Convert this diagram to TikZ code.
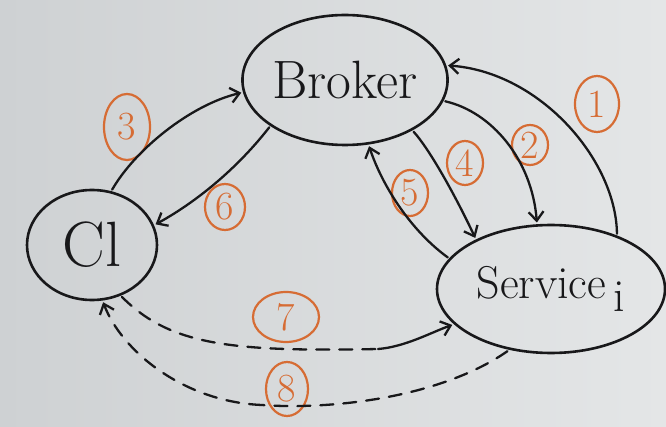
\documentclass[tikz,border=0pt]{standalone}
\usetikzlibrary{arrows.meta,shapes.geometric}
\definecolor{boardL}{RGB}{206,209,211}
\definecolor{boardR}{RGB}{228,230,231}
\definecolor{ink}{RGB}{24,24,26}
\definecolor{marker}{RGB}{214,108,52}
\tikzset{
  party/.style={ellipse, draw=ink, line width=2.6pt, inner sep=0pt, outer sep=3pt, text=ink},
  msg/.style={draw=ink, line width=2.3pt, line cap=round, -{Straight Barb[length=9pt,width=15pt,line width=2.3pt]}},
  plain/.style={draw=ink, line width=2.3pt, line cap=round},
  dashmsg/.style={dash pattern=on 13pt off 10pt},
  step label/.style={ellipse, draw=marker, line width=2.2pt, text=marker, inner sep=0pt,
    font=\fontsize{40}{42}\selectfont}
}
\begin{document}
\begin{tikzpicture}[x=1pt,y=-1pt]
  % whiteboard
  \shade[left color=boardL, right color=boardR] (0,0) rectangle (666,427);
  \useasboundingbox (0,0) rectangle (666,427);

  % parties
  \node[party, minimum width=192pt, minimum height=130pt,
        font=\fontsize{54}{56}\selectfont] (broker) at (345,80) {Broker};
  \node[party, minimum width=130pt, minimum height=110pt,
        font=\fontsize{64}{66}\selectfont] (client) at (92,245) {Cl};
  \node[party, minimum width=228pt, minimum height=128pt,
        font=\fontsize{46}{48}\selectfont] (service) at (551,289) {Service\,\raisebox{-0.3em}{i}};

  % numbered steps
  \node[step label, minimum width=44pt, minimum height=56pt] (s1) at (597,104) {1};
  \node[step label, minimum width=36pt, minimum height=40pt] (s2) at (530,145) {2};
  \node[step label, minimum width=46pt, minimum height=66pt] (s3) at (127,127) {3};
  \node[step label, minimum width=36pt, minimum height=44pt] (s4) at (465,163) {4};
  \node[step label, minimum width=36pt, minimum height=46pt] (s5) at (410,193) {5};
  \node[step label, minimum width=40pt, minimum height=46pt] (s6) at (225,207) {6};
  \node[step label, minimum width=66pt, minimum height=50pt] (s7) at (286,317) {7};
  \node[step label, minimum width=42pt, minimum height=54pt] (s8) at (287,389) {8};

  % broker / service exchanges
  \draw[msg] (service.40) .. controls (616,160) and (540,72) .. (broker.8);
  \draw[msg] (broker.-12) .. controls (492,112) and (532,160) .. (service.102);
  \draw[msg] (broker.-37) .. controls (430,150) and (455,195) .. (service.146);
  \draw[msg] (service.163) .. controls (410,230) and (382,185) .. (broker.-70);

  % client / broker exchanges
  \draw[msg] (client.70) .. controls (135,150) and (190,105) .. (broker.187);
  \draw[msg] (broker.-148) .. controls (240,165) and (200,200) .. (client.18);

  % direct client / service exchanges
  \coordinate (m7) at (378,349);
  \draw[plain, dashmsg] (client.-60) .. controls (170,345) and (230,352) .. (m7);
  \draw[msg] (m7) .. controls (405,347) and (432,332) .. (service.200);
  \coordinate (m8) at (262,405);
  \draw[plain, dashmsg] (service.235) .. controls (440,398) and (330,410) .. (m8);
  \draw[msg, dashmsg] (m8) .. controls (185,402) and (122,352) .. (client.-79);
\end{tikzpicture}
\end{document}
